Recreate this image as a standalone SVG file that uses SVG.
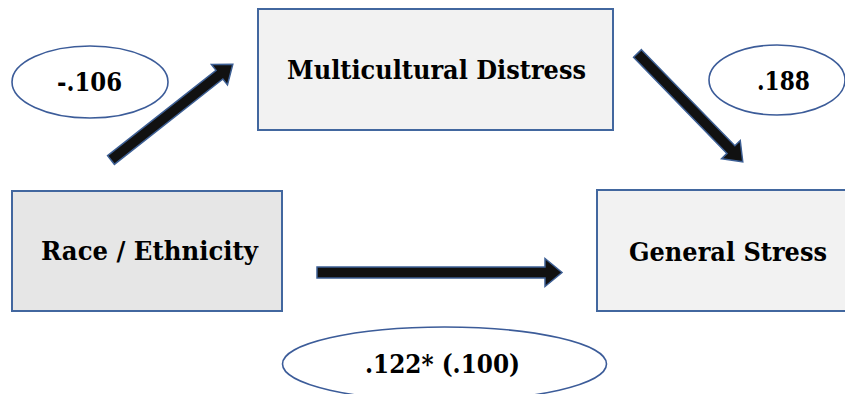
<svg xmlns="http://www.w3.org/2000/svg" width="845" height="394" viewBox="0 0 845 394">
<defs>
<style>
.box{stroke:#42679f;stroke-width:2}
.edge{fill:none;stroke:#42679f;stroke-width:2}
.lab{font-family:'DejaVu Serif','Liberation Serif',serif;font-weight:700;font-size:25.5px;fill:#000}
.oval{fill:#fff;stroke:#3c5c99;stroke-width:1.6}
.arr{fill:#111;stroke:#3d5f94;stroke-width:1.5;stroke-linejoin:miter}
</style>
</defs>
<rect width="845" height="394" fill="#fff"/>
<g id="connectors">
<polygon class="arr" transform="translate(111,160) rotate(-38.2)" points="0,-5.5 138,-5.5 138,-13 155,0 138,13 138,5.5 0,5.5"/>
<polygon class="arr" transform="translate(637.5,53.5) rotate(45.8)" points="0,-5.5 134,-5.5 134,-13 151,0 134,13 134,5.5 0,5.5"/>
<polygon class="arr" transform="translate(317,272.5)" points="0,-5.5 228,-5.5 228,-14 245,0 228,14 228,5.5 0,5.5"/>
</g>
<g id="node-multicultural">
<rect class="box" x="258" y="9" width="355" height="121" fill="#f2f2f2"/>
<text class="lab" x="287" y="79" textLength="299" lengthAdjust="spacingAndGlyphs">Multicultural Distress</text>
</g>
<g id="node-race">
<rect class="box" x="12" y="191" width="270" height="120" fill="#e6e6e6"/>
<text class="lab" x="41" y="260" textLength="217" lengthAdjust="spacingAndGlyphs">Race / Ethnicity</text>
</g>
<g id="node-stress">
<rect x="597" y="190" width="248" height="121" fill="#f2f2f2"/>
<path class="edge" d="M845,190 H597 V311 H845"/>
<text class="lab" x="629" y="261" textLength="198" lengthAdjust="spacingAndGlyphs">General Stress</text>
</g>
<g id="label-a">
<ellipse class="oval" cx="90" cy="82" rx="78" ry="36"/>
<text class="lab" x="57" y="91" textLength="65" lengthAdjust="spacingAndGlyphs">-.106</text>
</g>
<g id="label-b">
<ellipse class="oval" cx="777" cy="80" rx="68" ry="35"/>
<text class="lab" x="757" y="90" textLength="53" lengthAdjust="spacingAndGlyphs">.188</text>
</g>
<g id="label-c">
<ellipse class="oval" cx="444.5" cy="364" rx="162" ry="37"/>
<text class="lab" x="365" y="373" textLength="155" lengthAdjust="spacingAndGlyphs">.122* (.100)</text>
</g>
</svg>
